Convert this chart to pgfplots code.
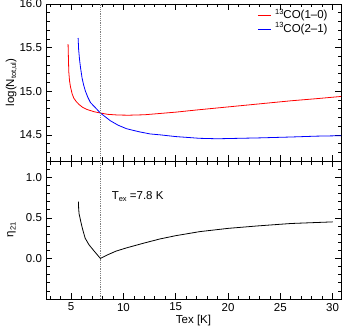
\documentclass[border=0pt]{standalone}
\usepackage{fontspec}
\setmainfont{Liberation Sans}
\usepackage{pgfplots}
\pgfplotsset{compat=1.18}
\newcommand{\sups}[1]{\raisebox{0.75ex}{\fontsize{7.5}{8}\selectfont #1}}
\newcommand{\subs}[1]{\raisebox{-0.35ex}{\fontsize{7.5}{8}\selectfont #1}}
\begin{document}
\fontsize{11.5}{13}\selectfont
\begin{tikzpicture}[x=1pt,y=1pt]
\useasboundingbox (0,0) rectangle (345,332);
\pgfplotsset{
  every axis/.append style={
    scale only axis, width=295pt,
    xmin=2.6, xmax=30.8,
    xtick={5,10,...,30},
    minor xtick={3,4,...,30},
    major tick style={black, line width=0.6pt},
    minor tick style={black, line width=0.6pt},
    major tick length=6pt, minor tick length=3.5pt,
    axis line style={line width=0.7pt},
    /pgf/number format/assume math mode=true,
    tick label style={font=\fontsize{11.5}{13}\selectfont},
    label style={font=\fontsize{11.5}{13}\selectfont},
    yticklabel style={/pgf/number format/fixed,/pgf/number format/fixed zerofill,/pgf/number format/precision=1},
  }
}
\begin{axis}[
  at={(46pt,171pt)}, anchor=south west, height=157pt,
  ymin=14.2, ymax=16.0,
  ytick={14.5,15,15.5,16},
  minor ytick={14.2,14.3,...,16.0},
  xticklabels={},
  ylabel={log(N\subs{tot,ul})},
  ylabel style={at={(axis description cs:-0.117,0.5)}, anchor=center},
]
% legend sample lines
\addplot[color=red, line width=1pt] coordinates {(22.85,15.865)(24.12,15.865)};
\addplot[color=blue, line width=1pt] coordinates {(22.85,15.708)(24.12,15.708)};
\addplot[color=red, line width=0.8pt] coordinates {
(4.71,15.54)(4.75,15.35)(4.78,15.22)(4.85,15.12)(4.94,15.05)(5.1,14.97)(5.26,14.92)(5.5,14.88)(5.74,14.85)(6.1,14.815)(6.53,14.79)(7.2,14.765)(7.8,14.75)(8.5,14.735)(9.5,14.727)(10.5,14.725)(12,14.73)(13.5,14.745)(15,14.76)(17,14.785)(20,14.82)(23,14.855)(26,14.89)(28.5,14.915)(30.8,14.94)};
\addplot[color=blue, line width=0.8pt] coordinates {
(5.67,15.61)(5.72,15.48)(5.8,15.37)(5.9,15.27)(6.05,15.15)(6.2,15.07)(6.37,15.0)(6.6,14.93)(6.85,14.87)(7.33,14.81)(7.8,14.75)(8.77,14.66)(9.5,14.61)(10.3,14.57)(11.5,14.535)(12.56,14.51)(13.5,14.50)(15,14.48)(17.3,14.46)(19,14.455)(21,14.46)(23,14.465)(26,14.475)(28.5,14.485)(30.8,14.49)};
\addplot[gray, densely dotted, line width=0.8pt] coordinates {(7.8,14.2)(7.8,16.0)};
\node[anchor=west, inner sep=0pt] at (rel axis cs:0.776,0.93) {\sups{13}CO(1--0)};
\node[anchor=west, inner sep=0pt] at (rel axis cs:0.776,0.843) {\sups{13}CO(2--1)};
\end{axis}
\begin{axis}[
  at={(46pt,33pt)}, anchor=south west, height=138pt,
  ymin=-0.5, ymax=1.2,
  ytick={0,0.5,1.0},
  minor ytick={-0.5,-0.4,...,1.2},
  xlabel={Tex [K]},
  xlabel style={yshift=4pt},
  ylabel={η\subs{21}},
  ylabel style={at={(axis description cs:-0.117,0.5)}, anchor=center},
]
\addplot[black, line width=0.8pt] coordinates {
(5.7,0.70)(5.72,0.62)(5.76,0.55)(5.85,0.50)(5.93,0.45)(6.1,0.36)(6.34,0.25)(6.7,0.17)(7.14,0.10)(7.5,0.045)(7.8,0.0)(8.5,0.045)(9.3,0.09)(10.3,0.13)(12,0.19)(13.5,0.24)(15,0.28)(17.3,0.33)(20,0.37)(22.8,0.40)(26,0.43)(30,0.45)};
\addplot[gray, densely dotted, line width=0.8pt] coordinates {(7.8,-0.5)(7.8,1.2)};
\node[anchor=west] at (axis cs:8.5,0.76) {T\subs{ex} =7.8 K};
\end{axis}
\end{tikzpicture}
\end{document}
